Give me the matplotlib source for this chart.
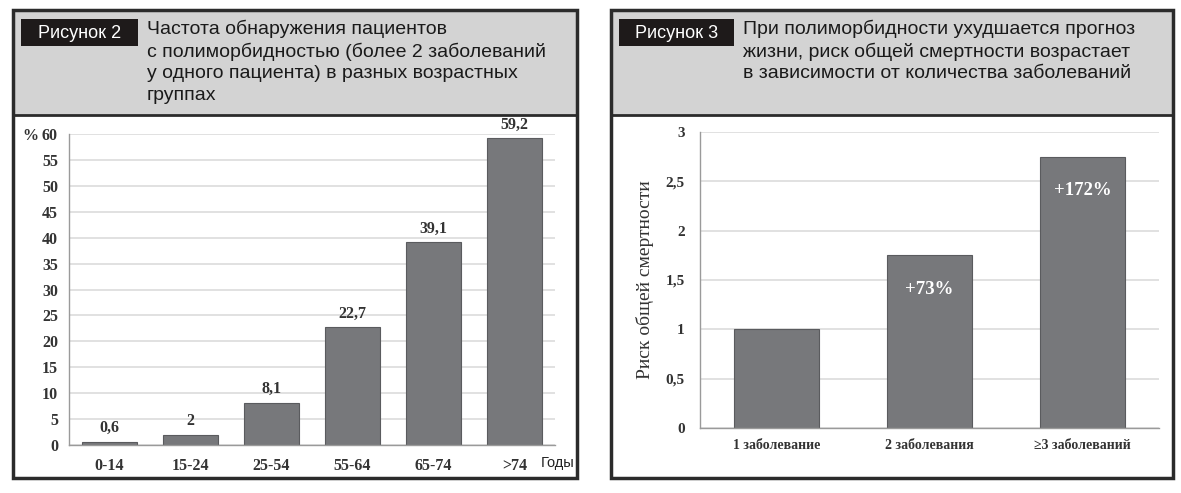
import matplotlib
matplotlib.use("Agg")
import matplotlib.pyplot as plt
from matplotlib.patches import Rectangle

# data
age_groups = ["0-14", "15-24", "25-54", "55-64", "65-74", ">74"]
age_values = [0.6, 2, 8.1, 22.7, 39.1, 59.2]
age_labels = ["0,6", "2", "8,1", "22,7", "39,1", "59,2"]

dis_groups = ["1 заболевание", "2 заболевания", "\u22653 заболеваний"]
dis_values = [1.0, 1.75, 2.75]
dis_labels = ["", "+73%", "+172%"]

W, H = 1181, 493
fig = plt.figure(figsize=(W / 100, H / 100), dpi=100)
fig.patch.set_facecolor("white")

BAR = "#77787b"
EDGE = "#5a5b5e"
GRID = "#dcdcdc"
SERIF = "Liberation Serif"
SANS = "Liberation Sans"


def px(x0, y0, x1, y1):
    # pixel box (top-left origin) -> figure fraction rect
    return [x0 / W, 1 - y1 / H, (x1 - x0) / W, (y1 - y0) / H]


def panel(x0, x1, label, title, lx1):
    l, b, w, h = px(x0, 10, x1, 115)
    fig.add_artist(Rectangle((l, b), w, h, transform=fig.transFigure,
                             facecolor="#d3d3d3", edgecolor="none", zorder=0))
    l, b, w, h = px(x0, 10, x1, 478)
    fig.add_artist(Rectangle((l, b), w, h, transform=fig.transFigure,
                             facecolor="none", edgecolor="#2b2b2b", lw=2.5, zorder=5))
    fig.add_artist(plt.Line2D([x0 / W, x1 / W], [1 - 115 / H] * 2,
                              transform=fig.transFigure, color="#2b2b2b", lw=2, zorder=5))
    l, b, w, h = px(x0 + 8, 19, lx1, 46)
    fig.add_artist(Rectangle((l, b), w, h, transform=fig.transFigure,
                             facecolor="#1e1a1a", edgecolor="none", zorder=3))
    fig.text((x0 + 8 + lx1) / 2 / W, 1 - 33 / H, label, color="white",
             family=SANS, fontsize=13, ha="center", va="center", zorder=4)
    fig.text((lx1 + 9) / W, 1 - 20 / H, title, family=SANS, fontsize=14,
             ha="left", va="top", linespacing=1.32, color="#1a1a1a", zorder=4)


panel(13, 577, "Рисунок 2",
      "Частота обнаружения пациентов\nс полиморбидностью (более 2 заболеваний\n"
      "у одного пациента) в разных возрастных\nгруппах", 138)
panel(611, 1173, "Рисунок 3",
      "При полиморбидности ухудшается прогноз\nжизни, риск общей смертности возрастает\n"
      "в зависимости от количества заболеваний", 734)


def style(ax, size):
    for s in ["top", "right"]:
        ax.spines[s].set_visible(False)
    for s in ["left", "bottom"]:
        ax.spines[s].set_color("#9a9a9a")
        ax.spines[s].set_linewidth(1)
    ax.yaxis.grid(True, color=GRID, lw=1.2)
    ax.set_axisbelow(True)
    ax.tick_params(length=0, labelsize=size, colors="#333333")
    for t in ax.get_xticklabels() + ax.get_yticklabels():
        t.set_family(SERIF)
        t.set_fontweight("bold")


# Figure 2
ax1 = fig.add_axes(px(69, 134, 555, 445))
x1 = range(len(age_groups))
ax1.bar(x1, age_values, width=0.68, color=BAR, edgecolor=EDGE, lw=0.8)
ax1.set_xlim(-0.5, len(age_groups) - 0.5)
ax1.set_ylim(0, 60)
ax1.set_yticks(range(0, 61, 5))
ax1.set_xticks(list(x1))
ax1.set_xticklabels(age_groups)
ax1.tick_params(axis="y", pad=8)
ax1.tick_params(axis="x", pad=9)
style(ax1, 11.5)
for xi, v, s in zip(x1, age_values, age_labels):
    ax1.text(xi, v + 1.1, s, ha="center", va="bottom", family=SERIF,
             fontweight="bold", fontsize=11.5, color="#333333")
ax1.text(-0.064, 1.0, "%", transform=ax1.transAxes, ha="right",
         va="center_baseline", family=SERIF, fontweight="bold", fontsize=11.5,
         color="#333333")
ax1.text(0.97, -0.057, "Годы", transform=ax1.transAxes, ha="left", va="center",
         family=SANS, fontsize=10.5, color="#222222")

# Figure 3
ax2 = fig.add_axes(px(700, 132, 1159, 428))
x2 = range(len(dis_groups))
ax2.bar(x2, dis_values, width=0.55, color=BAR, edgecolor=EDGE, lw=0.8)
ax2.set_xlim(-0.5, len(dis_groups) - 0.5)
ax2.set_ylim(0, 3)
ax2.set_yticks([0, 0.5, 1, 1.5, 2, 2.5, 3])
ax2.set_yticklabels(["0", "0,5", "1", "1,5", "2", "2,5", "3"])
ax2.set_xticks(list(x2))
ax2.set_xticklabels(dis_groups)
style(ax2, 11)
ax2.tick_params(axis="y", pad=11)
ax2.tick_params(axis="x", pad=8, labelsize=10)
for xi, v, s in zip(x2, dis_values, dis_labels):
    if s:
        ax2.text(xi, v - 0.26, s, ha="center", va="top", family=SERIF,
                 fontweight="bold", fontsize=13.5, color="white")
ax2.set_ylabel("Риск общей смертности", family=SERIF, fontsize=14,
               color="#333333", labelpad=8)

fig.savefig("out.png", dpi=100, facecolor="white")
